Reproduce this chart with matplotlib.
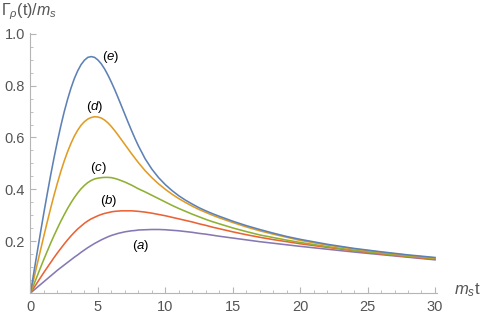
import matplotlib
matplotlib.use('Agg')
import matplotlib.pyplot as plt
from matplotlib.ticker import MultipleLocator

# sample times (m_s t)
t = [0, 0.25, 0.5, 0.75, 1, 1.25, 1.5, 1.75, 2, 2.25, 2.5, 2.75, 3, 3.25, 3.5, 3.75,
     4, 4.25, 4.5, 4.75, 5, 5.25, 5.5, 5.75, 6, 6.25, 6.5, 6.75, 7, 7.25, 7.5, 7.75, 8,
     8.5, 9, 9.5, 10, 10.5, 11, 11.5, 12, 12.5, 13, 13.5, 14,
     15, 16, 17, 18, 19, 20,
     22, 24, 26, 28, 30]

# Gamma_rho(t)/m_s
curve_a = [0, 0.011, 0.022, 0.033, 0.044, 0.055, 0.066, 0.077, 0.088, 0.098, 0.108,
           0.118, 0.128, 0.138, 0.147, 0.157, 0.166, 0.175, 0.183, 0.191, 0.198, 0.205,
           0.211, 0.217, 0.222, 0.226, 0.230, 0.233, 0.236, 0.238, 0.240, 0.241, 0.243,
           0.244, 0.245, 0.245, 0.244, 0.242, 0.240, 0.237, 0.234, 0.230, 0.227, 0.223, 0.219,
           0.212, 0.205, 0.198, 0.192, 0.186, 0.180,
           0.169, 0.158, 0.148, 0.138, 0.128]
curve_b = [0, 0.020, 0.040, 0.060, 0.080, 0.099, 0.118, 0.137, 0.155, 0.172, 0.189,
           0.205, 0.220, 0.234, 0.247, 0.258, 0.269, 0.278, 0.286, 0.292, 0.298, 0.303,
           0.307, 0.310, 0.313, 0.315, 0.316, 0.317, 0.317, 0.317, 0.317, 0.316, 0.315,
           0.312, 0.308, 0.303, 0.298, 0.292, 0.286, 0.280, 0.274, 0.267, 0.261, 0.254, 0.248,
           0.236, 0.225, 0.215, 0.206, 0.198, 0.190,
           0.176, 0.163, 0.151, 0.140, 0.130]
curve_c = [0, 0.033, 0.066, 0.099, 0.131, 0.162, 0.193, 0.222, 0.250, 0.277, 0.302,
           0.326, 0.348, 0.368, 0.386, 0.402, 0.415, 0.426, 0.434, 0.440, 0.443, 0.445,
           0.446, 0.446, 0.445, 0.442, 0.438, 0.433, 0.428, 0.422, 0.416, 0.409, 0.402,
           0.390, 0.377, 0.364, 0.351, 0.338, 0.326, 0.315, 0.304, 0.294, 0.284, 0.275, 0.267,
           0.251, 0.237, 0.224, 0.214, 0.204, 0.195,
           0.179, 0.165, 0.153, 0.142, 0.133]
curve_d = [0, 0.056, 0.112, 0.167, 0.222, 0.276, 0.328, 0.378, 0.425, 0.469, 0.509,
           0.545, 0.577, 0.605, 0.628, 0.647, 0.661, 0.671, 0.677, 0.680, 0.679, 0.675,
           0.667, 0.656, 0.642, 0.626, 0.609, 0.591, 0.573, 0.555, 0.537, 0.520, 0.503,
           0.472, 0.445, 0.421, 0.400, 0.381, 0.364, 0.349, 0.335, 0.322, 0.311, 0.300, 0.290,
           0.272, 0.255, 0.240, 0.227, 0.215, 0.203,
           0.185, 0.170, 0.157, 0.145, 0.135]
curve_e = [0, 0.080, 0.158, 0.236, 0.312, 0.385, 0.456, 0.523, 0.586, 0.645, 0.699,
           0.747, 0.790, 0.827, 0.857, 0.881, 0.898, 0.909, 0.912, 0.909, 0.899, 0.884,
           0.864, 0.840, 0.813, 0.784, 0.753, 0.721, 0.689, 0.657, 0.626, 0.596, 0.568,
           0.518, 0.478, 0.445, 0.418, 0.395, 0.375, 0.358, 0.343, 0.329, 0.317, 0.306, 0.296,
           0.277, 0.260, 0.245, 0.231, 0.218, 0.207,
           0.188, 0.172, 0.159, 0.147, 0.137]

curves = [curve_a, curve_b, curve_c, curve_d, curve_e]
colors = ['#8778B3', '#EB6235', '#8FB032', '#E19C24', '#5E81B5']
labels = ['a', 'b', 'c', 'd', 'e']
label_pos = [(8.15, 0.181), (5.8, 0.353), (5.0, 0.482), (4.76, 0.719), (5.94, 0.909)]

plt.rcParams['mathtext.fontset'] = 'custom'
plt.rcParams['mathtext.rm'] = 'Liberation Sans'
plt.rcParams['mathtext.it'] = 'Liberation Sans:italic'
plt.rcParams['font.family'] = ['Liberation Sans', 'DejaVu Sans']

axis_col = '#b5b5b5'
text_col = '#555555'

fig = plt.figure(figsize=(4.85, 3.19), dpi=100)
ax = fig.add_axes([30.5 / 485, 26 / 319, 406.5 / 485, 260 / 319])

for y, c in zip(curves, colors):
    ax.plot(t, y, color=c, lw=1.15, solid_joinstyle='round')

for lab, (lx, ly) in zip(labels, label_pos):
    ax.text(lx, ly, r'$(%s)$' % lab, ha='center', va='center',
            fontsize=9.5, color='black')

ax.set_xlim(0, 30.15)
ax.set_ylim(0, 1.003)

for s in ['top', 'right']:
    ax.spines[s].set_visible(False)
for s in ['left', 'bottom']:
    ax.spines[s].set_color(axis_col)
    ax.spines[s].set_linewidth(0.8)

ax.xaxis.set_major_locator(MultipleLocator(5))
ax.xaxis.set_minor_locator(MultipleLocator(1))
ax.yaxis.set_major_locator(MultipleLocator(0.2))
ax.yaxis.set_minor_locator(MultipleLocator(0.05))
ax.set_yticks([0.2, 0.4, 0.6, 0.8, 1.0])
ax.set_yticklabels(['0.2', '0.4', '0.6', '0.8', '1.0'])

ax.tick_params(which='both', direction='in', colors=axis_col, labelcolor=text_col,
               labelsize=10.5)
ax.tick_params(which='major', length=4.5, width=0.8)
ax.tick_params(which='minor', length=2.5, width=0.6)
ax.tick_params(axis='x', pad=5)
ax.tick_params(axis='y', pad=4)

ax.text(31.4, 0.01, r'$m_s\mathrm{t}$', ha='left', va='center', fontsize=12,
        color=text_col, clip_on=False)
fig.text(0.002, 0.995, r'$\Gamma_\rho(\mathrm{t})/m_s$', ha='left', va='top',
         fontsize=11.5, color=text_col)

fig.savefig('out.png', dpi=100)
plt.close(fig)
